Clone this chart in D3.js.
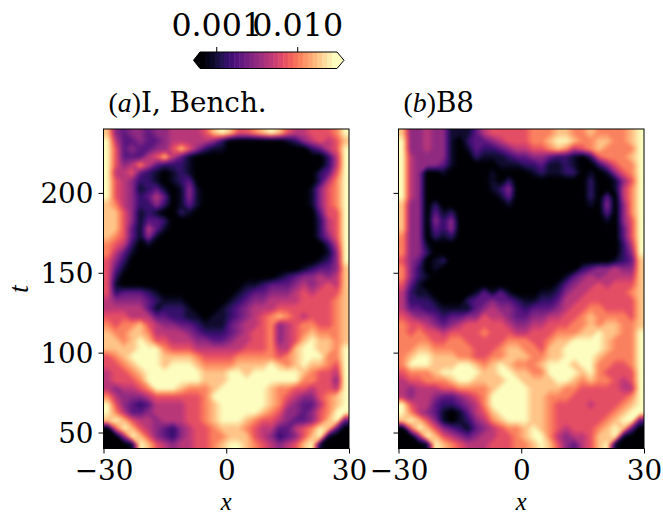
<!DOCTYPE html>
<html><head><meta charset="utf-8">
<script src="https://cdn.jsdelivr.net/npm/d3@7"></script>
<style>html,body{margin:0;padding:0;background:#fff}svg{display:block}text{font-family:"DejaVu Serif",serif;fill:#000}</style>
</head><body><svg id="c" width="663" height="515"></svg>
<script>
const xDomain=[-30,30], tDomain=[40,240];
const xTicks=[-30,0,30], tTicks=[50,100,150,200];
const cbarTicks=[0.001,0.01], cbarLabels=["0.001","0.010"], cbarDomain=[0.00063,0.031];
const titleA=["a","I, Bench."], titleB=["b","B8"];
// log-intensity levels 0..9, rows top (t=240) to bottom (t=40), x=-30..30
const panelA=[
"84344 34455 55689 86678 98655 66679",
"95334 33455 55542 00000 00124 56568",
"96343 34468 64211 00000 00000 23569",
"96333 56853 10000 00000 00000 00259",
"96457 53222 10000 00000 00000 00259",
"95563 21012 10000 00000 00000 02369",
"96542 21012 30000 00000 00000 02579",
"96541 23101 41000 00000 00000 14679",
"96542 35301 41000 00000 00000 14679",
"87542 24201 31000 00000 00000 14679",
"88641 21002 10000 00000 00000 03669",
"88641 33200 00000 00000 00000 02569",
"88631 53100 00000 00000 00000 02569",
"87631 41000 00000 00000 00000 02469",
"76520 10000 00000 00000 00000 00259",
"75310 00000 00000 00000 00000 00149",
"64200 00000 00000 00000 00000 01249",
"63100 00000 00000 00000 00001 23348",
"62000 00000 00000 00000 01234 45458",
"61000 00000 00000 00112 33345 45658",
"62333 21000 00000 01233 44456 56668",
"54444 32111 00000 12344 55556 66678",
"55555 31222 10001 23455 56666 66678",
"66655 53322 11011 23456 78765 66678",
"76778 65443 32111 34556 74567 76678",
"87788 75555 43222 34566 74567 87778",
"88789 86655 54433 45566 74568 98878",
"88889 99766 65555 55666 75589 98879",
"67899 99888 87666 67777 76789 99779",
"66789 99899 98777 78888 98789 88769",
"56678 99999 99888 99899 99998 76659",
"56667 99999 99888 99999 99997 76649",
"54556 79998 77789 99999 87766 56659",
"75444 56666 66799 99999 87654 46789",
"96432 35555 66789 99999 87543 35789",
"97533 45555 66789 99998 76443 46799",
"89865 54555 66789 99876 65433 46893",
"06986 54324 56678 88765 53356 79830",
"00498 64324 56677 88865 42346 89100",
"00019 86545 56678 99876 54568 91000"];
const panelB=[
"84454 41113 56666 67778 87787 77789",
"94454 41023 34566 67789 98778 87789",
"94454 41013 22345 56678 75678 77779",
"95444 41002 11123 34432 21026 77789",
"95444 31000 00111 22311 21002 46779",
"95400 10000 01000 01211 22010 14679",
"95400 00000 01020 00000 00020 01469",
"95400 00000 01240 00000 00020 01579",
"95400 00000 00130 00000 00020 30579",
"84402 00000 00010 00000 00010 40479",
"84403 12000 00000 00000 00000 30479",
"84404 24000 00000 00000 00000 10469",
"84403 24000 00000 00000 00000 00369",
"74402 12000 00000 00000 00000 00369",
"74410 00000 00000 00000 00000 00259",
"74420 00000 00000 00000 00000 00249",
"64301 20000 00000 00000 00000 01238",
"74201 00000 00000 00000 00234 45448",
"74210 00000 00000 00000 13454 55558",
"63100 00000 00000 00001 34556 56668",
"52110 00001 31310 00112 45566 66678",
"52221 00023 34332 11223 55666 66668",
"53322 11113 45443 23334 56677 66668",
"65443 23344 65543 34455 66787 77768",
"76654 34566 66654 45566 67787 88778",
"76766 56666 76665 56667 77889 88779",
"77776 67766 66677 76678 89999 87779",
"77887 77776 66788 77688 99999 87779",
"78998 88776 67788 87788 99998 77779",
"79998 88998 78987 77899 98997 76679",
"67778 99999 88998 87799 99897 66669",
"56677 78998 88899 88889 98787 76569",
"54555 66777 78999 98888 77666 66559",
"54554 33456 79999 98877 76666 66679",
"96553 22345 79999 98876 66656 66789",
"97543 10135 68999 98876 66666 67899",
"89864 10124 57899 98876 66666 78993",
"06986 43213 45677 89876 56667 89830",
"00498 65434 55667 89975 45568 89100",
"00019 87655 56667 78986 43568 91000"];

const svg=d3.select("#c");
const mathFont='"Liberation Serif",serif', tickFont='"DejaVu Serif",serif';
const level=d3.scalePow().exponent(1.1).domain([0,9]).range([0,1]).clamp(true);
const color=v=>d3.interpolateMagma(level(v));
const thresholds=d3.range(0.2,9.01,0.2);
const pTop=129,pBottom=448.5,W=245.5,pad=2;
const y=d3.scaleLinear().domain(tDomain).range([pBottom,pTop]);
const defs=svg.append("defs");

function panel(id,left,rows,title,showY){
  const x=d3.scaleLinear().domain(xDomain).range([left,left+W]);
  const grid=rows.map(r=>r.replace(/ /g,"").split("").map(Number));
  const nx=grid[0].length,ny=grid.length;
  // replicate edge cells outside the frame so the display smoothing does not fade at the edges
  const tx=nx+2*pad,ty=ny+2*pad,vals=[];
  for(let j=0;j<ty;j++)for(let i=0;i<tx;i++)
    vals.push(grid[Math.max(0,Math.min(ny-1,j-pad))][Math.max(0,Math.min(nx-1,i-pad))]);
  const gx=d3.scaleLinear().domain([pad,nx+pad]).range(xDomain);
  const gy=d3.scaleLinear().domain([pad,ny+pad]).range([tDomain[1],tDomain[0]]);
  const proj=d3.geoTransform({point(a,b){this.stream.point(x(gx(a)),y(gy(b)));}});
  const path=d3.geoPath(proj);
  defs.append("clipPath").attr("id","clip"+id).append("rect").attr("x",left).attr("y",pTop).attr("width",W).attr("height",pBottom-pTop);
  const f=defs.append("filter").attr("id","soft"+id).attr("filterUnits","userSpaceOnUse").attr("x",left-20).attr("y",pTop-20).attr("width",W+40).attr("height",pBottom-pTop+40).attr("color-interpolation-filters","sRGB");
  f.append("feGaussianBlur").attr("stdDeviation",1.5);
  const outer=svg.append("g").attr("clip-path",`url(#clip${id})`);
  const g=outer.append("g").attr("filter",`url(#soft${id})`);
  g.append("rect").attr("x",left-20).attr("y",pTop-20).attr("width",W+40).attr("height",pBottom-pTop+40).attr("fill",color(0));
  const contours=d3.contours().size([tx,ty]).smooth(true).thresholds(thresholds)(vals);
  g.selectAll("path").data(contours).join("path").attr("d",path).attr("fill",d=>color(d.value)).attr("stroke","none");
  const ax=svg.append("g").attr("transform",`translate(0,${pBottom})`).call(d3.axisBottom(x).tickValues(xTicks).tickFormat(d=>d<0?"\u2212"+(-d):d).tickSize(5).tickPadding(3));
  const ay=svg.append("g").attr("transform",`translate(${left},0)`).call(d3.axisLeft(y).tickValues(tTicks).tickSize(5).tickPadding(5).tickFormat(showY?d=>d:""));
  [ax,ay].forEach(a=>{a.select(".domain").remove();a.selectAll("text").style("font-size","27.8px").style("font-family",tickFont);a.selectAll("line").attr("stroke","#000").attr("stroke-width",1);});
  ax.selectAll("text").attr("y",31.5).attr("dy",0);
  ay.selectAll("text").attr("dy","0.36em");
  svg.append("rect").attr("x",left).attr("y",pTop).attr("width",W).attr("height",pBottom-pTop).attr("fill","none").attr("stroke","#000").attr("stroke-width",1);
  const t=svg.append("text").attr("x",left+5).attr("y",112).style("font-size","27.8px");
  t.append("tspan").text("(").style("font-family",mathFont);
  t.append("tspan").text(title[0]).style("font-family",mathFont).style("font-style","italic");
  t.append("tspan").text(")").style("font-family",mathFont);
  t.append("tspan").text(title[1]);
  svg.append("text").attr("x",left+W/2).attr("y",509.5).attr("text-anchor","middle").style("font-size","24.5px").style("font-family",mathFont).style("font-style","italic").text("x");
}
panel("a",103.5,panelA,titleA,true);
panel("b",398.5,panelB,titleB,false);
svg.append("text").attr("transform","translate(28,289) rotate(-90)").attr("text-anchor","middle").style("font-size","28px").style("font-family",mathFont).style("font-style","italic").text("t");

// colour bar
const cx=d3.scaleLog().domain(cbarDomain).range([200,337]);
const cy0=52,cy1=68.5,n=28;
const cLevels=d3.range(n);
const band=d3.scaleBand().domain(cLevels).range([200,337]);
const barColor=t=>d3.interpolateMagma(t);
svg.append("g").selectAll("rect").data(cLevels).join("rect").attr("x",d=>band(d)).attr("y",cy0).attr("width",band.bandwidth()+0.5).attr("height",cy1-cy0).attr("fill",d=>barColor(d/(n-1)));
const ym=(cy0+cy1)/2;
svg.append("path").attr("d",`M200,${cy0}L193.5,${ym}L200,${cy1}Z`).attr("fill",barColor(0));
svg.append("path").attr("d",`M337,${cy0}L344,${ym}L337,${cy1}Z`).attr("fill",barColor(1));
svg.append("path").attr("d",`M200,${cy0}L193.5,${ym}L200,${cy1}L337,${cy1}L344,${ym}L337,${cy0}Z`).attr("fill","none").attr("stroke","#000").attr("stroke-width",1);
const ct=svg.append("g").attr("transform",`translate(0,${cy0})`).call(d3.axisTop(cx).tickValues(cbarTicks).tickSize(5).tickPadding(11).tickFormat((d,i)=>cbarLabels[i]));
ct.select(".domain").remove();
ct.selectAll("text").style("font-size","31.7px").style("font-family",tickFont);
ct.selectAll("line").attr("stroke","#000");
</script></body></html>
